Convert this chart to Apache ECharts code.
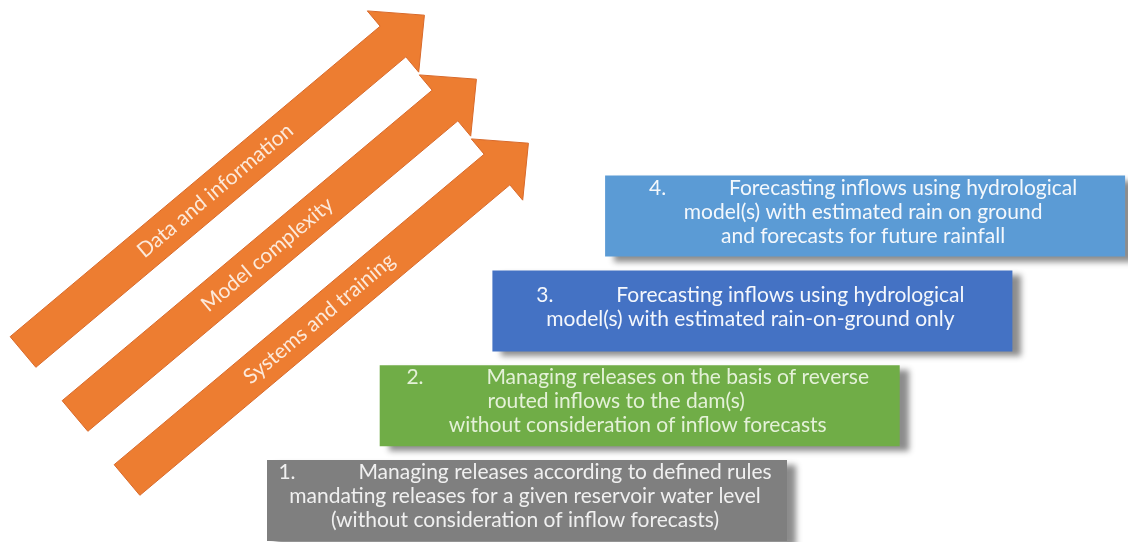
<!DOCTYPE html>
<html>
<head>
<meta charset="utf-8">
<script src="https://cdn.jsdelivr.net/npm/echarts@6/dist/echarts.min.js"></script>
<style>
html,body{margin:0;padding:0;background:#fff;}
#chart{width:1128px;height:542px;}
</style>
</head>
<body>
<div id="chart"></div>
<script>
// ---- data ----
const stepNumbers = ["1.", "2.", "3.", "4."];
const stepFirstLines = [
  "Managing releases according to defined rules",
  "Managing releases on the basis of reverse",
  "Forecasting inflows using hydrological",
  "Forecasting inflows using hydrological"
];
const stepOtherLines = [
  ["mandating releases for a given reservoir water level", "(without consideration of inflow forecasts)"],
  ["routed inflows to the dam(s)        ", "without consideration of inflow forecasts"],
  ["model(s) with estimated rain-on-ground only"],
  ["model(s) with estimated rain on ground", "and forecasts for future rainfall"]
];
const arrowLabels = ["Data and information", "Model complexity", "Systems and training"];

// ---- styles ----
const boxColors = ["#7f7f7f", "#70ad47", "#4472c4", "#5b9bd5"];
const boxTextColors = ["#f0f0f0", "#e4f1d8", "#f4f7fc", "#f4f8fc"];
const arrowColor = "#ed7d31";
const FONT = "Lato, 'Noto Sans', sans-serif";

const chart = echarts.init(document.getElementById('chart'), null, {renderer: 'canvas'});

const deg = 40 * Math.PI / 180;
const dir = [Math.cos(deg), -Math.sin(deg)];
const nrm = [Math.sin(deg), Math.cos(deg)];

function boxRender(params, api) {
  const i = api.value(0);
  const left = 267 + i * 112.7;
  const top = 460 - i * 94.8;
  const p0 = api.coord([left, top]);
  const p1 = api.coord([left + 520, top + 81]);
  const lines = ['{num|' + stepNumbers[i] + '}' + stepFirstLines[i]].concat(stepOtherLines[i]);
  const tc = boxTextColors[i];
  return {
    type: 'group',
    children: [
      {
        type: 'rect',
        shape: {x: p0[0], y: p0[1], width: p1[0] - p0[0], height: p1[1] - p0[1]},
        style: {
          fill: boxColors[i],
          shadowBlur: 6,
          shadowOffsetX: 9,
          shadowOffsetY: 5,
          shadowColor: 'rgba(0,0,0,0.45)'
        }
      },
      {
        type: 'text',
        x: (p0[0] + p1[0]) / 2 - 2,
        y: (p0[1] + p1[1]) / 2 - 4,
        style: {
          text: lines.join('\n'),
          fill: tc,
          font: '21px ' + FONT,
          lineHeight: 24,
          align: 'center',
          verticalAlign: 'middle',
          rich: {
            num: {width: 80, fill: tc, fontSize: 21, fontFamily: FONT, lineHeight: 24, align: 'left'}
          }
        }
      }
    ]
  };
}

function arrowRender(params, api) {
  const k = api.value(0);
  const T = api.coord([23 + 52 * k, 352 + 64 * k]);
  const w = 20, h = 40, Ls = 483, Lh = 41;
  const pt = (a, b) => [T[0] + dir[0] * a + nrm[0] * b, T[1] + dir[1] * a + nrm[1] * b];
  const pts = [pt(0, w), pt(Ls, w), pt(Ls, h), pt(Ls + Lh, 0), pt(Ls, -h), pt(Ls, -w), pt(0, -w)];
  const c = pt(251, 0);
  return {
    type: 'group',
    children: [
      {
        type: 'polygon',
        shape: {points: pts},
        style: {fill: arrowColor, stroke: '#d8692a', lineWidth: 1}
      },
      {
        type: 'text',
        x: c[0], y: c[1],
        rotation: deg,
        style: {
          text: arrowLabels[k],
          fill: '#fce9da',
          font: '21px ' + FONT,
          align: 'center',
          verticalAlign: 'middle'
        }
      }
    ]
  };
}

chart.setOption({
  animation: false,
  grid: {left: 0, right: 0, top: 0, bottom: 0},
  xAxis: {type: 'value', min: 0, max: 1128, show: false},
  yAxis: {type: 'value', min: 0, max: 542, inverse: true, show: false},
  series: [
    {
      type: 'custom',
      name: 'arrows',
      renderItem: arrowRender,
      data: arrowLabels.map((l, k) => [k]),
      silent: true
    },
    {
      type: 'custom',
      name: 'steps',
      renderItem: boxRender,
      data: stepNumbers.map((n, i) => [i]),
      silent: true
    }
  ]
});
</script>
</body>
</html>
